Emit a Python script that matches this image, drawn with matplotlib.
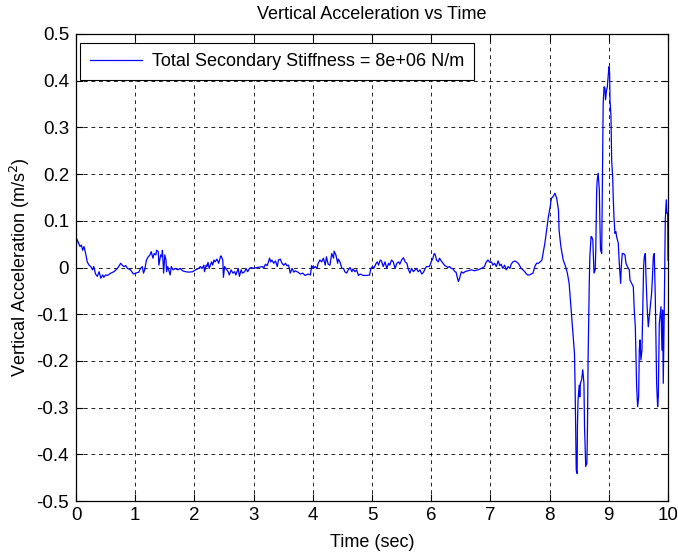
import numpy as np
import matplotlib
matplotlib.use("Agg")
import matplotlib.pyplot as plt

# Trace, (time s, vertical acceleration m/s^2)
trace_0_2 = [
    (0.00, 0.010), (0.011, 0.062), (0.034, 0.055), (0.068, 0.045), (0.09, 0.048),
    (0.113, 0.037), (0.135, 0.045), (0.163, 0.030), (0.19, 0.012), (0.22, 0.005),
    (0.25, 0.002), (0.28, -0.005), (0.30, 0.002), (0.33, -0.014), (0.36, -0.019),
    (0.39, -0.009), (0.42, -0.023), (0.45, -0.016), (0.47, -0.021), (0.50, -0.016),
    (0.53, -0.017), (0.59, -0.012), (0.64, -0.009), (0.70, -0.002), (0.755, 0.009),
    (0.78, 0.005), (0.81, 0.002), (0.84, 0.004), (0.87, -0.002), (0.92, -0.005),
    (0.97, -0.014), (1.01, -0.012), (1.06, -0.010), (1.09, -0.002), (1.12, 0.002),
    (1.14, -0.012), (1.16, -0.005), (1.19, 0.016), (1.22, 0.023), (1.25, 0.027),
    (1.27, 0.034), (1.30, 0.020), (1.32, 0.030), (1.35, 0.027), (1.36, 0.037),
    (1.39, 0.034), (1.40, 0.005), (1.43, 0.027), (1.45, 0.023), (1.46, 0.037),
    (1.48, -0.012), (1.50, 0.027), (1.52, 0.016), (1.53, -0.009), (1.55, 0.002),
    (1.59, -0.016), (1.61, 0.002), (1.64, -0.005), (1.68, -0.002), (1.72, -0.005),
    (1.76, -0.002), (1.80, -0.007), (1.85, -0.009), (1.91, -0.010), (1.97, -0.009),
]
trace_2_4 = [
    (2.02, -0.005), (2.07, -0.002), (2.10, 0.002), (2.13, -0.002), (2.16, 0.005),
    (2.17, -0.009), (2.20, 0.005), (2.21, 0.002), (2.23, 0.011), (2.25, -0.002),
    (2.29, 0.012), (2.31, 0.005), (2.33, 0.016), (2.35, 0.012), (2.38, 0.018),
    (2.41, 0.009), (2.44, 0.023), (2.45, 0.025), (2.48, 0.016), (2.49, -0.021),
    (2.51, 0.002), (2.53, -0.002), (2.57, -0.009), (2.59, -0.016), (2.62, -0.005),
    (2.65, -0.012), (2.68, -0.009), (2.70, -0.016), (2.74, -0.002), (2.76, -0.019),
    (2.79, -0.005), (2.81, -0.012), (2.85, -0.009), (2.87, -0.002), (2.90, -0.009),
    (2.93, -0.002), (2.96, 0.000), (3.00, -0.002), (3.06, 0.000), (3.11, 0.001),
    (3.15, 0.002), (3.17, -0.002), (3.20, 0.007), (3.23, 0.004), (3.27, 0.020),
    (3.29, 0.012), (3.31, 0.016), (3.34, 0.009), (3.37, 0.014), (3.40, 0.002),
    (3.42, 0.016), (3.45, 0.018), (3.48, 0.009), (3.51, 0.005), (3.54, 0.009),
    (3.56, 0.004), (3.59, 0.005), (3.62, -0.012), (3.65, -0.002), (3.68, -0.010),
    (3.70, -0.007), (3.75, -0.010), (3.79, -0.014), (3.83, -0.012), (3.87, -0.017),
    (3.92, -0.014), (3.96, -0.016),
]
trace_4_6 = [
    (3.98, 0.004), (4.01, -0.002), (4.04, 0.002), (4.07, -0.002), (4.09, 0.009),
    (4.12, 0.016), (4.15, 0.012), (4.18, 0.020), (4.21, 0.005), (4.23, 0.023),
    (4.26, 0.007), (4.29, 0.005), (4.32, 0.030), (4.35, 0.020), (4.36, 0.035),
    (4.39, 0.027), (4.42, 0.009), (4.43, 0.018), (4.46, 0.012), (4.49, -0.002),
    (4.52, -0.002), (4.54, -0.009), (4.57, -0.012), (4.60, -0.005), (4.63, 0.000),
    (4.66, -0.009), (4.68, -0.003), (4.71, -0.009), (4.74, -0.005), (4.77, -0.017),
    (4.80, -0.014), (4.85, -0.017), (4.91, -0.017), (4.96, -0.016), (4.98, -0.002),
    (5.01, 0.002), (5.03, -0.002), (5.07, 0.009), (5.09, 0.012), (5.11, 0.005),
    (5.14, 0.016), (5.16, 0.014), (5.19, 0.002), (5.22, 0.012), (5.25, -0.002),
    (5.28, 0.009), (5.30, 0.005), (5.33, 0.016), (5.36, 0.012), (5.39, -0.002),
    (5.42, 0.009), (5.45, 0.012), (5.47, 0.007), (5.50, 0.016), (5.53, 0.021),
    (5.56, 0.012), (5.59, 0.009), (5.61, -0.002), (5.64, -0.012), (5.67, -0.002),
    (5.70, -0.009), (5.73, -0.005), (5.75, -0.002), (5.78, -0.009), (5.81, -0.005),
    (5.84, -0.014), (5.87, -0.010), (5.90, -0.002), (5.92, 0.002), (5.95, 0.002),
]
trace_6_8 = [
    (5.97, 0.002), (6.00, 0.012), (6.03, 0.020), (6.05, 0.030), (6.07, 0.027),
    (6.09, 0.016), (6.12, 0.012), (6.14, 0.020), (6.17, 0.014), (6.20, 0.009),
    (6.23, 0.004), (6.26, 0.002), (6.28, 0.000), (6.31, 0.002), (6.34, -0.002),
    (6.37, -0.003), (6.40, -0.009), (6.42, -0.010), (6.44, -0.021), (6.46, -0.030),
    (6.48, -0.023), (6.51, -0.009), (6.54, -0.012), (6.57, -0.009), (6.62, -0.007),
    (6.68, -0.005), (6.73, -0.007), (6.79, -0.005), (6.85, -0.002), (6.90, 0.002),
    (6.93, 0.012), (6.96, 0.016), (6.99, 0.011), (7.02, 0.012), (7.04, 0.005),
    (7.07, 0.009), (7.10, 0.002), (7.13, 0.014), (7.16, 0.004), (7.18, 0.007),
    (7.21, -0.002), (7.24, 0.005), (7.27, -0.005), (7.30, 0.002), (7.33, -0.002),
    (7.35, 0.007), (7.38, 0.012), (7.41, 0.014), (7.44, 0.012), (7.47, 0.009),
    (7.49, 0.005), (7.52, -0.002), (7.55, -0.005), (7.58, -0.009), (7.61, -0.014),
    (7.63, -0.016), (7.66, -0.016), (7.69, -0.014), (7.72, -0.012),
]
trace_8_9 = [
    (7.75, 0.002), (7.78, 0.009), (7.81, 0.009), (7.84, 0.012), (7.87, 0.016),
    (7.89, 0.030), (7.92, 0.052), (7.95, 0.080), (7.98, 0.109), (8.01, 0.130),
    (8.03, 0.148), (8.06, 0.152), (8.09, 0.159), (8.12, 0.148), (8.15, 0.123),
    (8.16, 0.080), (8.19, 0.045), (8.23, 0.016), (8.27, 0.002), (8.30, -0.012),
    (8.33, -0.034), (8.36, -0.084), (8.38, -0.119), (8.42, -0.184), (8.43, -0.248),
    (8.44, -0.334), (8.45, -0.434), (8.465, -0.441), (8.47, -0.341), (8.48, -0.284),
    (8.50, -0.252), (8.51, -0.277), (8.52, -0.248), (8.54, -0.241), (8.56, -0.219),
    (8.58, -0.248), (8.59, -0.341), (8.61, -0.426), (8.63, -0.419), (8.64, -0.341),
    (8.65, -0.198), (8.67, -0.034), (8.68, 0.023), (8.70, 0.066),
]
trace_9_10 = [
    (8.71, 0.066), (8.73, 0.059), (8.74, 0.023), (8.75, -0.012), (8.77, -0.005),
    (8.78, 0.038), (8.795, 0.166), (8.805, 0.188), (8.82, 0.202), (8.84, 0.166),
    (8.85, 0.095), (8.86, 0.038), (8.88, 0.030), (8.89, 0.166), (8.905, 0.351),
    (8.92, 0.387), (8.935, 0.384), (8.945, 0.359), (8.96, 0.377), (8.975, 0.387),
    (8.99, 0.409), (9.003, 0.430), (9.014, 0.416), (9.02, 0.359), (9.037, 0.323),
    (9.048, 0.230), (9.065, 0.195), (9.076, 0.145), (9.087, 0.109), (9.104, 0.073),
    (9.12, 0.077), (9.132, 0.066), (9.16, 0.052), (9.177, 0.009), (9.189, -0.012),
    (9.20, -0.034), (9.211, 0.002), (9.228, 0.030), (9.245, 0.030), (9.273, 0.027),
    (9.29, 0.009), (9.313, 0.002), (9.346, -0.005), (9.358, -0.027), (9.386, -0.034),
    (9.414, -0.041), (9.43, -0.091), (9.448, -0.127), (9.47, -0.255), (9.487, -0.298),
    (9.504, -0.277), (9.515, -0.177), (9.526, -0.155), (9.543, -0.198), (9.56, -0.177),
    (9.571, -0.105), (9.588, 0.002), (9.60, 0.023), (9.617, 0.030), (9.628, -0.020),
    (9.65, -0.091), (9.667, -0.127), (9.684, -0.105), (9.707, -0.077), (9.723, -0.055),
    (9.735, -0.027), (9.752, 0.023), (9.768, 0.030), (9.785, -0.062), (9.808, -0.248),
    (9.825, -0.298), (9.836, -0.277), (9.853, -0.120), (9.864, -0.105), (9.881, -0.084),
    (9.898, -0.177), (9.909, -0.091), (9.92, -0.248), (9.937, -0.091), (9.954, 0.102),
    (9.971, 0.145), (9.982, 0.116), (9.995, 0.116), (10.0, 0.016),
]

x_ticks = list(range(0, 11))
y_ticks = [-0.5, -0.4, -0.3, -0.2, -0.1, 0, 0.1, 0.2, 0.3, 0.4, 0.5]
y_tick_labels = ["-0.5", "-0.4", "-0.3", "-0.2", "-0.1", "0",
                 "0.1", "0.2", "0.3", "0.4", "0.5"]
legend_label = "Total Secondary Stiffness = 8e+06 N/m"

plt.rcParams['font.family'] = ['Liberation Sans', 'DejaVu Sans']

t, acc = np.array(trace_0_2 + trace_2_4 + trace_4_6 + trace_6_8
                  + trace_8_9 + trace_9_10).T

fig = plt.figure(figsize=(6.78, 5.52), dpi=100)
ax = fig.add_axes([76 / 678, 51 / 552, 592 / 678, 467 / 552])

ax.plot(t, acc, color=(0, 0, 1), linewidth=0.9, label=legend_label)

ax.set_xlim(0, 10)
ax.set_ylim(-0.5, 0.5)
ax.set_xticks(x_ticks)
ax.set_yticks(y_ticks)
ax.set_yticklabels(y_tick_labels)
ax.tick_params(direction='in', length=5, width=0.8, top=True, right=True,
               labelsize=13.5, colors='black')
ax.tick_params(axis='y', pad=5)
ax.tick_params(axis='x', pad=4.5)
ax.grid(True, color='black', linestyle=(0, (4.5, 4.5)), linewidth=0.6)
for sp in ax.spines.values():
    sp.set_linewidth(0.9)

ax.set_title("Vertical Acceleration vs Time", fontsize=13, pad=10.5)
ax.set_xlabel("Time (sec)", fontsize=13, labelpad=7)
ax.set_ylabel("Vertical Acceleration (m/s$^2$)", fontsize=13, labelpad=3.5)

leg = ax.legend(loc='upper left', bbox_to_anchor=(4 / 592, 1 - 9 / 467),
                borderaxespad=0, fancybox=False, framealpha=1,
                edgecolor='black', fontsize=13, handlelength=2.9,
                handletextpad=0.55, borderpad=0.55)
leg.get_frame().set_linewidth(0.8)

fig.savefig("out.png", dpi=100)
